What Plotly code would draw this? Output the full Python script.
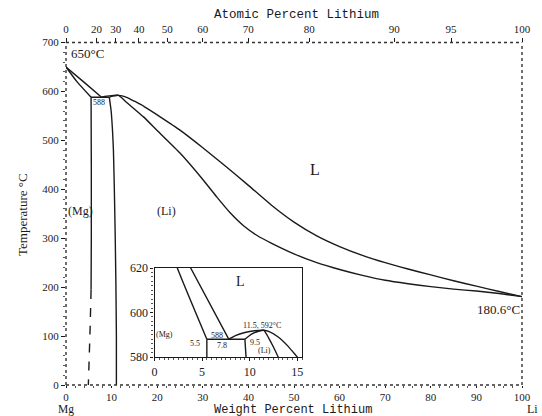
import plotly.graph_objects as go

# Mg-Li phase diagram, temperatures in degC against weight percent Li
liq_mg_x = [0.0, 3.8, 7.8]
liq_mg_t = [650, 620, 588]
sol_mg_x = [0.0, 2.4, 5.5]
sol_mg_t = [650, 620, 588]

eut_x = [5.5, 9.5]
eut_t = [588, 588]

solvus_mg_x = [5.5, 5.55, 5.55, 5.5]
solvus_mg_t = [588, 450, 300, 195]
solvus_mg_dash_x = [5.5, 5.3, 4.9]
solvus_mg_dash_t = [195, 120, 0]

solvus_li_x = [9.5, 9.9, 10.2, 10.4, 10.6, 10.8, 10.95, 11.05, 11.05]
solvus_li_t = [588, 560, 520, 480, 400, 300, 200, 100, 0]

liq_li_x = [7.8, 8.5, 9.5, 10.5, 11.5, 12.0, 13.0, 14.0, 15.0, 17.0, 20.0, 25.0, 30.0,
            35.0, 40.0, 45.0, 50.0, 55.0, 60.0, 65.0, 70.0, 75.0, 80.0, 85.0, 90.0, 95.0, 100.0]
liq_li_t = [588, 589.6, 591, 591.8, 592, 591.5, 589, 585, 580, 570, 552, 521, 485,
            447, 408, 368, 333, 305, 283, 265, 250, 237, 225, 213, 202, 191, 180.6]

sol_li_x = [9.5, 10.2, 11.0, 11.5, 12.0, 12.5, 13.0, 15.0, 17.0, 20.0, 25.0, 30.0, 33.0,
            36.0, 39.0, 42.0, 45.0, 50.0, 55.0, 60.0, 65.0, 70.0, 75.0, 80.0, 85.0, 90.0, 95.0, 100.0]
sol_li_t = [588, 590.3, 591.7, 592, 588.5, 584.5, 580, 564, 548, 520, 474, 420, 385,
            352, 325, 305, 290, 268, 250, 236, 224, 214, 207, 201, 196, 192, 187, 180.6]

wt_ticks = [0, 10, 20, 30, 40, 50, 60, 70, 80, 90, 100]
t_ticks = [0, 100, 200, 300, 400, 500, 600, 700]
at_ticks = [0, 20, 30, 40, 50, 60, 70, 80, 90, 95, 100]
inset_x_ticks = [0, 5, 10, 15]
inset_t_ticks = [580, 600, 620]

M_LI, M_MG = 6.941, 24.305


def at_to_wt(a):
    return 100.0 * a * M_LI / (a * M_LI + (100.0 - a) * M_MG)


at_pos = [at_to_wt(a) for a in at_ticks]

SERIF = "Liberation Serif"
MONO = "Liberation Mono"
INK = "#1a1a1a"

fig = go.Figure()


def curve(x, t, xa="x", ya="y", dash="solid", w=1.4):
    fig.add_trace(go.Scatter(x=x, y=t, mode="lines", xaxis=xa, yaxis=ya,
                             line=dict(color=INK, width=w, dash=dash, shape="spline", smoothing=0.5),
                             hoverinfo="skip", showlegend=False))


for xa, ya in (("x", "y"), ("x3", "y3")):
    curve(liq_mg_x, liq_mg_t, xa, ya)
    curve(sol_mg_x, sol_mg_t, xa, ya)
    curve(eut_x, eut_t, xa, ya)
    curve(solvus_mg_x, solvus_mg_t, xa, ya)
    curve(solvus_li_x, solvus_li_t, xa, ya)
    curve(liq_li_x, liq_li_t, xa, ya)
    curve(sol_li_x, sol_li_t, xa, ya)
curve(solvus_mg_dash_x, solvus_mg_dash_t, dash="dash")

# carrier for the atomic-percent axis on top
fig.add_trace(go.Scatter(x=[0, 100], y=[0, 0], xaxis="x2", yaxis="y", mode="markers",
                         marker=dict(opacity=0), hoverinfo="skip", showlegend=False))

main_x = [66 / 542, 522 / 542]
main_y = [1 - 385 / 416, 1 - 42.5 / 416]
ins_x = [154.5 / 542, 302 / 542]
ins_y = [1 - 357 / 416, 1 - 268 / 416]

tickfont = dict(family=SERIF, size=11, color=INK)
insetfont = dict(family=SERIF, size=12, color=INK)

fig.update_layout(
    width=542, height=416,
    margin=dict(l=0, r=0, t=0, b=0, autoexpand=False),
    paper_bgcolor="white", plot_bgcolor="white",
    showlegend=False,
    xaxis=dict(domain=main_x, range=[0, 100], tickvals=wt_ticks, ticks="outside",
               ticklen=2, tickcolor=INK, showgrid=False, zeroline=False, showline=False,
               tickfont=tickfont, anchor="y", automargin=False,
               minor=dict(dtick=2, ticks="outside", ticklen=2, tickcolor="#555")),
    xaxis2=dict(overlaying="x", side="top", range=[0, 100], tickvals=at_pos,
                ticktext=[str(a) for a in at_ticks], ticks="outside", ticklen=4,
                tickcolor=INK, showgrid=False, zeroline=False, showline=False,
                tickfont=tickfont, anchor="y", automargin=False),
    yaxis=dict(domain=main_y, range=[0, 700], tickvals=t_ticks, ticks="outside",
               ticklen=4, tickcolor=INK, showgrid=False, zeroline=False, showline=False,
               tickfont=tickfont, anchor="x", automargin=False,
               minor=dict(dtick=20, ticks="outside", ticklen=2, tickcolor="#555")),
    xaxis3=dict(domain=ins_x, range=[0, 15.5], tickvals=inset_x_ticks, ticks="outside",
                ticklen=3, tickcolor=INK, showgrid=False, zeroline=False, showline=True,
                linecolor=INK, linewidth=1.2, mirror=True, tickfont=insetfont, anchor="y3",
                automargin=False,
                minor=dict(dtick=0.5, ticks="outside", ticklen=2, tickcolor="#555")),
    yaxis3=dict(domain=ins_y, range=[580, 620], tickvals=inset_t_ticks, ticks="outside",
                ticklen=3, tickcolor=INK, showgrid=False, zeroline=False, showline=True,
                linecolor=INK, linewidth=1.2, mirror=True, tickfont=insetfont, anchor="x3",
                automargin=False,
                minor=dict(dtick=2, ticks="outside", ticklen=2, tickcolor="#555")),
)

# dotted frame of the main plot
frame = dict(color="#333", width=1.4, dash="dot")
x0, x1 = main_x
y0, y1 = main_y
for a, b, c, d in ((x0, y0, x1, y0), (x0, y1, x1, y1), (x0, y0, x0, y1), (x1, y0, x1, y1)):
    fig.add_shape(type="line", xref="paper", yref="paper", x0=a, y0=b, x1=c, y1=d,
                  line=frame, layer="above")


def note(text, x, y, xref="x", yref="y", size=12, font=SERIF, **kw):
    kw.setdefault("xanchor", "center")
    kw.setdefault("yanchor", "middle")
    fig.add_annotation(text=text, x=x, y=y, xref=xref, yref=yref, showarrow=False,
                       font=dict(family=font, size=size, color=INK), **kw)


# axis titles and end-member labels
note("Atomic Percent Lithium", 296 / 542, 1 - 15 / 416, "paper", "paper", size=12.5, font=MONO)
note("Weight Percent Lithium", 293 / 542, 1 - 409.5 / 416, "paper", "paper", size=12, font=MONO)
note("Temperature °C", 22 / 542, 1 - 215 / 416, "paper", "paper", size=13, textangle=-90)
note("Mg", 66 / 542, 1 - 409.5 / 416, "paper", "paper", size=11.5)
note("Li", 532 / 542, 1 - 409 / 416, "paper", "paper", size=12)

# main plot labels
note("650°C", 0.6, 650, size=13, xanchor="left", yanchor="bottom", yshift=4)
note("588", 7.2, 578, size=8)
note("L", 54.5, 440, size=16)
note("(Mg)", 3.1, 355, size=12)
note("(Li)", 22.0, 355, size=12)
note("180.6°C", 100, 180.6, size=13, xanchor="right", yanchor="top", yshift=-3)

# inset labels
note("L", 9.0, 614, "x3", "y3", size=14)
note("(Mg)", 1.0, 590, "x3", "y3", size=8)
note("5.5", 4.3, 586, "x3", "y3", size=8)
note("588", 6.6, 589.8, "x3", "y3", size=8)
note("7.8", 7.1, 585.2, "x3", "y3", size=8)
note("9.5", 9.8, 586.3, "x3", "y3", size=8, xanchor="left")
note("11.5, 592°C", 11.3, 594, "x3", "y3", size=8)
note("(Li)", 11.6, 583, "x3", "y3", size=8)

fig.write_html("out.html")
